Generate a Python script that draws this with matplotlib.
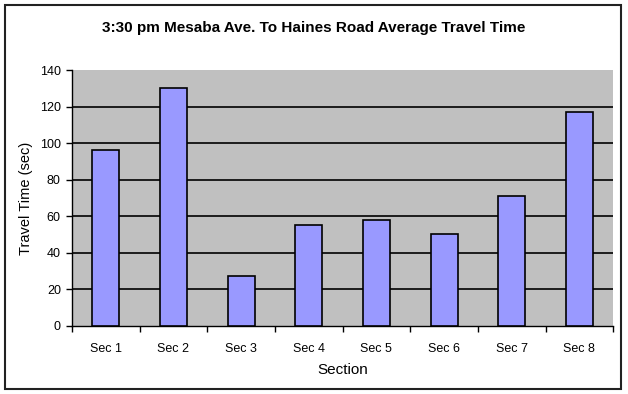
import matplotlib.pyplot as plt
from matplotlib.patches import Rectangle

sections = ['Sec 1', 'Sec 2', 'Sec 3', 'Sec 4', 'Sec 5', 'Sec 6', 'Sec 7', 'Sec 8']
travel_time = [96, 130, 27.5, 55, 58, 50.5, 71, 117]
y_ticks = [0, 20, 40, 60, 80, 100, 120, 140]

plt.rcParams['font.family'] = ['Liberation Sans', 'DejaVu Sans']

fig = plt.figure(figsize=(6.28, 3.94), dpi=100)
ax = fig.add_axes([0.1146, 0.1726, 0.8618, 0.6497])

# outer chart border
fig.patches.append(Rectangle((5 / 628, 5 / 394), 616 / 628, 384 / 394,
                             transform=fig.transFigure, fill=False,
                             edgecolor='#222222', linewidth=1.5))

ax.set_facecolor('#C0C0C0')
x = list(range(len(sections)))
ax.bar(x, travel_time, width=0.4, color='#9999FF', edgecolor='black',
       linewidth=1.2, zorder=3)

ax.set_xlim(-0.5, len(sections) - 0.5)
ax.set_ylim(0, 140)
ax.set_yticks(y_ticks)
ax.set_xticks(x)
ax.set_xticklabels(sections)
ax.set_xticks([i - 0.5 for i in range(len(sections) + 1)], minor=True)
ax.tick_params(axis='x', which='major', length=0, pad=12, labelsize=9)
ax.tick_params(axis='x', which='minor', length=4, width=1, direction='out')
ax.tick_params(axis='y', length=4, width=1, labelsize=9, pad=4)

for v in y_ticks[1:-1]:
    ax.axhline(v, color='black', linewidth=1.2, zorder=1)

for side in ['top', 'right']:
    ax.spines[side].set_visible(False)
ax.spines['left'].set_linewidth(1)
ax.spines['bottom'].set_linewidth(1)

ax.set_xlabel('Section', fontsize=11, labelpad=6)
ax.set_ylabel('Travel Time (sec)', fontsize=10.5, labelpad=5)
fig.text(0.5, 0.93, '3:30 pm Mesaba Ave. To Haines Road Average Travel Time',
         ha='center', va='center', fontsize=11, fontweight='bold')

fig.savefig('out.png', dpi=100)
